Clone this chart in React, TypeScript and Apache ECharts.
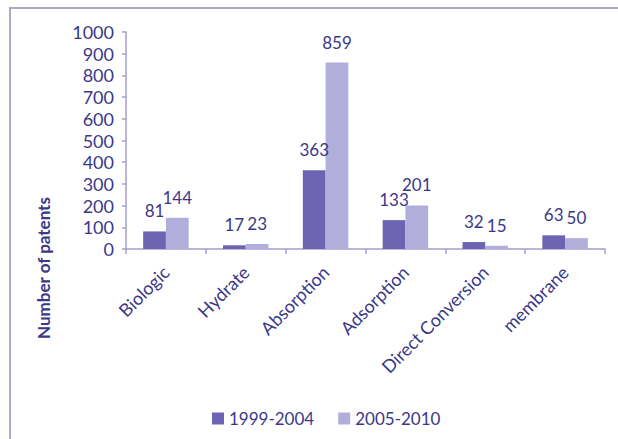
import React, { useEffect, useRef } from "react";
import * as echarts from "echarts";

const categories = ["Biologic", "Hydrate", "Absorption", "Adsorption", "Direct Conversion", "membrane"];
const series1999 = [81, 17, 363, 133, 32, 63];
const series2005 = [144, 23, 859, 201, 15, 50];
const seriesNames = ["1999-2004", "2005-2010"];
const yTicks = { min: 0, max: 1000, interval: 100 };
const yTitle = "Number of patents";

const TEXT = "#3b3888";
const DARK = "#6c64b2";
const LIGHT = "#b2aedb";
const AXIS = "#a3a0cc";
const FONT = "Lato, 'Open Sans', sans-serif";

export default function App() {
  const ref = useRef<HTMLDivElement>(null);
  useEffect(() => {
    document.body.style.margin = "0";
    const chart = echarts.init(ref.current!, null, { renderer: "svg" });
    const label = {
      show: true,
      position: "top",
      distance: 12,
      color: TEXT,
      fontSize: 17,
      fontFamily: FONT,
    };
    chart.setOption({
      animation: false,
      backgroundColor: "#ffffff",
      textStyle: { fontFamily: FONT },
      grid: { left: 126, right: 13, top: 32, bottom: 190, containLabel: false },
      legend: {
        left: 207,
        top: 405,
        itemWidth: 12,
        itemHeight: 12,
        itemGap: 24,
        icon: "rect",
        textStyle: { color: TEXT, fontSize: 17, fontFamily: FONT },
        data: seriesNames,
      },
      xAxis: {
        type: "category",
        data: categories,
        axisLine: { lineStyle: { color: AXIS, width: 1.5 } },
        axisTick: { show: true, length: 5, lineStyle: { color: AXIS, width: 1.5 } },
        axisLabel: {
          interval: 0,
          rotate: 45,
          margin: 20,
          color: TEXT,
          fontSize: 18,
          fontFamily: FONT,
        },
      },
      yAxis: {
        type: "value",
        min: yTicks.min,
        max: yTicks.max,
        interval: yTicks.interval,
        splitLine: { show: false },
        axisLine: { show: true, lineStyle: { color: AXIS, width: 1.5 } },
        axisTick: { show: true, length: 4, lineStyle: { color: AXIS, width: 1.5 } },
        axisLabel: {
          color: TEXT,
          fontSize: 18,
          fontFamily: FONT,
          margin: 12,
          formatter: (v: number) => String(v),
        },
      },
      series: [
        {
          name: seriesNames[0],
          type: "bar",
          data: series1999,
          itemStyle: { color: DARK },
          barGap: "0%",
          barCategoryGap: "43%",
          label,
        },
        {
          name: seriesNames[1],
          type: "bar",
          data: series2005,
          itemStyle: { color: LIGHT },
          barGap: "0%",
          barCategoryGap: "43%",
          label,
        },
      ],
      graphic: [
        {
          type: "rect",
          shape: { x: 10, y: 8, width: 640, height: 460 },
          style: { fill: "none", stroke: "#aba9c6", lineWidth: 2 },
          silent: true,
        },
        {
          type: "text",
          x: 43,
          y: 268,
          rotation: Math.PI / 2,
          style: {
            text: yTitle,
            fill: TEXT,
            font: `bold 17px ${FONT}`,
            textAlign: "center",
            textVerticalAlign: "middle",
          },
        },
      ],
    });
    return () => chart.dispose();
  }, []);
  return (
    <div
      ref={ref}
      style={{ position: "fixed", left: 0, top: 0, width: 618, height: 439 }}
    />
  );
}
